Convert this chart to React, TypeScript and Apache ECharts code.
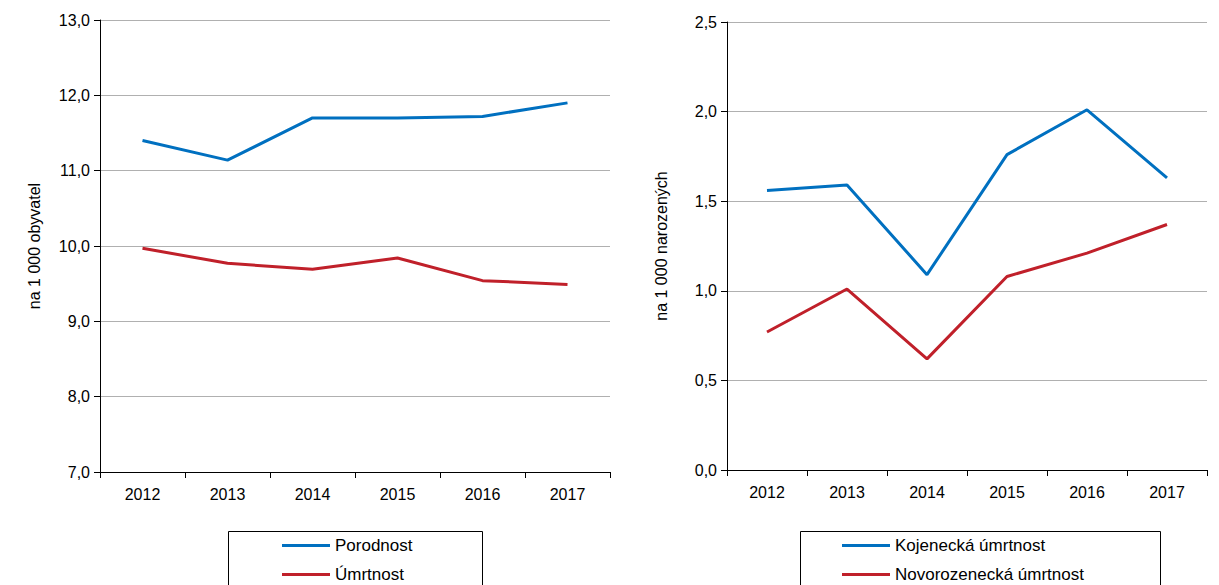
import React, { useEffect, useRef } from "react";
import * as echarts from "echarts";

const years = ["2012", "2013", "2014", "2015", "2016", "2017"];
const porodnost = [11.4, 11.14, 11.7, 11.7, 11.72, 11.9];
const umrtnost = [9.97, 9.77, 9.69, 9.84, 9.54, 9.49];
const kojenecka = [1.56, 1.59, 1.09, 1.76, 2.01, 1.63];
const novorozenecka = [0.77, 1.01, 0.62, 1.08, 1.21, 1.37];

const BLUE = "#0070c0";
const RED = "#c0202a";
const font = "Liberation Sans";

const fmt = (v: number) => v.toFixed(1).replace(".", ",");

const App = () => {
  const ref = useRef<HTMLDivElement>(null);

  useEffect(() => {
    document.body.style.margin = "0";
    const chart = echarts.init(ref.current, null, { renderer: "svg" });

    const xAxis = (gridIndex: number) => ({
      type: "category",
      gridIndex,
      data: years,
      boundaryGap: true,
      axisLine: { lineStyle: { color: "#000" } },
      axisTick: { show: true, alignWithLabel: false, length: 6, lineStyle: { color: "#000" } },
      axisLabel: { color: "#000", fontSize: 16, fontFamily: font, margin: 14 },
    });
    const yAxis = (gridIndex: number, min: number, max: number, interval: number, name: string) => ({
      type: "value",
      gridIndex,
      min,
      max,
      interval,
      name,
      nameLocation: "middle",
      nameGap: 58,
      nameTextStyle: { color: "#000", fontSize: 16, fontFamily: font },
      axisLine: { show: true, lineStyle: { color: "#000" } },
      axisTick: { show: true, length: 6, lineStyle: { color: "#000" } },
      axisLabel: { color: "#000", fontSize: 16, fontFamily: font, formatter: fmt, margin: 10 },
      splitLine: { lineStyle: { color: "#b0b0b0", width: 1 } },
    });
    const line = (name: string, data: number[], color: string, idx: number) => ({
      type: "line",
      name,
      data,
      xAxisIndex: idx,
      yAxisIndex: idx,
      symbol: "none",
      lineStyle: { color, width: 3 },
      itemStyle: { color },
    });
    const legend = (left: number, top: number, name: string) => ({
      data: [name],
      left,
      top,
      itemWidth: 48,
      itemHeight: 3,
      icon: "rect",
      padding: 0,
      textStyle: { color: "#000", fontSize: 17, fontFamily: font },
    });

    chart.setOption({
      animation: false,
      grid: [
        { left: 100, top: 20, width: 510, height: 452 },
        { left: 727, top: 22, width: 480, height: 448 },
      ],
      xAxis: [xAxis(0), xAxis(1)],
      yAxis: [
        yAxis(0, 7, 13, 1, "na 1 000 obyvatel"),
        yAxis(1, 0, 2.5, 0.5, "na 1 000 narozených"),
      ],
      legend: [
        legend(282, 537, "Porodnost"),
        legend(282, 566, "Úmrtnost"),
        legend(842, 537, "Kojenecká úmrtnost"),
        legend(842, 566, "Novorozenecká úmrtnost"),
      ],
      graphic: [
        { type: "rect", shape: { x: 228.5, y: 531.5, width: 254, height: 60 }, style: { fill: "none", stroke: "#000", lineWidth: 1 } },
        { type: "rect", shape: { x: 800.5, y: 531.5, width: 360, height: 60 }, style: { fill: "none", stroke: "#000", lineWidth: 1 } },
      ],
      series: [
        line("Porodnost", porodnost, BLUE, 0),
        line("Úmrtnost", umrtnost, RED, 0),
        line("Kojenecká úmrtnost", kojenecka, BLUE, 1),
        line("Novorozenecká úmrtnost", novorozenecka, RED, 1),
      ],
    });
    return () => chart.dispose();
  }, []);

  return <div ref={ref} style={{ width: 1219, height: 585 }} />;
};

export default App;
